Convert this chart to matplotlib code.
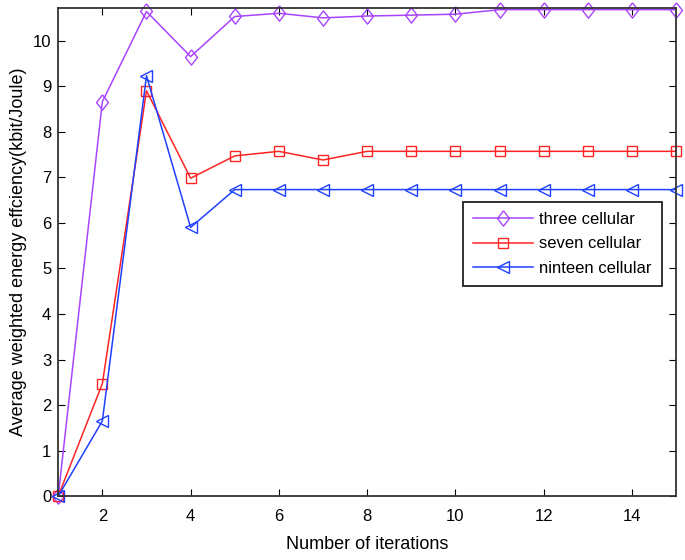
import matplotlib
matplotlib.use('Agg')
import matplotlib.pyplot as plt

iterations = list(range(1, 16))
three_cellular = [0, 8.66, 10.64, 9.65, 10.53, 10.6, 10.5, 10.54, 10.56, 10.58, 10.68, 10.68, 10.68, 10.68, 10.68]
seven_cellular = [0, 2.47, 8.9, 6.98, 7.47, 7.57, 7.38, 7.57, 7.57, 7.57, 7.57, 7.57, 7.57, 7.57, 7.57]
nineteen_cellular = [0, 1.65, 9.23, 5.9, 6.73, 6.73, 6.73, 6.73, 6.73, 6.73, 6.73, 6.73, 6.73, 6.73, 6.73]

plt.rcParams['font.family'] = ['Liberation Sans', 'DejaVu Sans']

# matlab style diamond, a bit taller than wide
diamond = [(0, 1), (0.78, 0), (0, -1), (-0.78, 0), (0, 1)]

fig = plt.figure(figsize=(6.85, 5.6), dpi=100)
ax = fig.add_axes([0.085, 0.114, 0.902, 0.872])

ax.plot(iterations, three_cellular, color='#a844ff', marker=diamond, markersize=11,
        markerfacecolor='none', lw=1.1, label='three cellular', clip_on=False)
ax.plot(iterations, seven_cellular, color='#ff2424', marker='s', markersize=7,
        markerfacecolor='none', lw=1.1, label='seven cellular', clip_on=False)
ax.plot(iterations, nineteen_cellular, color='#2040ff', marker='<', markersize=9,
        markerfacecolor='none', lw=1.1, label='ninteen cellular', clip_on=False)

ax.set_xlim(1, 15)
ax.set_ylim(0, 10.72)
ax.set_xticks(range(2, 15, 2))
ax.set_yticks(range(0, 11))
ax.tick_params(direction='in', top=True, right=True, labelsize=12, length=5)
ax.tick_params(axis='x', pad=9)
ax.tick_params(axis='y', pad=5)
for s in ax.spines.values():
    s.set_linewidth(1.3)
    s.set_color('#333333')

ax.set_xlabel('Number of iterations', fontsize=13, labelpad=9)
ax.set_ylabel('Average weighted energy effciency(kbit/Joule)', fontsize=13, labelpad=4)

leg = ax.legend(loc='upper right', bbox_to_anchor=(0.977, 0.602), borderaxespad=0,
                fontsize=12, fancybox=False, edgecolor='#222222', framealpha=1,
                borderpad=0.6, handlelength=3.6, labelspacing=0.55,
                handletextpad=0.4)
leg.get_frame().set_linewidth(1.3)

fig.savefig('out.png', dpi=100)
